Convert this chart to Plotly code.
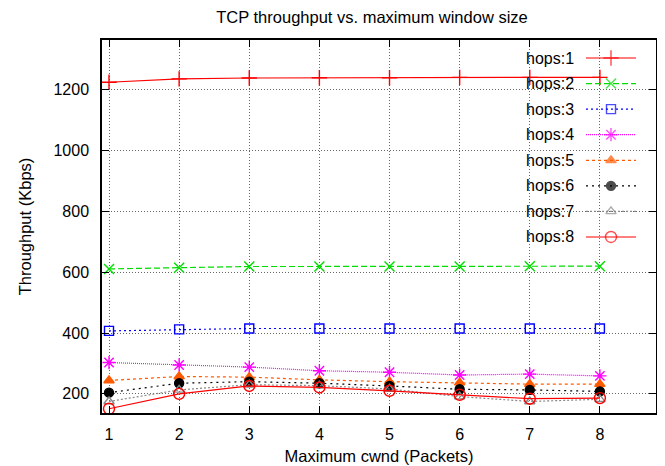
import plotly.graph_objects as go

# ---- data ----
cwnd = [1, 2, 3, 4, 5, 6, 7, 8]
hops1 = [1225, 1236, 1239, 1240, 1240, 1241, 1241, 1241]
hops2 = [611, 615, 619, 619, 619, 619, 620, 620]
hops3 = [407, 412, 415, 415, 415, 415, 415, 415]
hops4 = [303, 295, 288, 276, 271, 262, 265, 259]
hops5 = [244, 257, 255, 246, 240, 237, 232, 232]
hops6 = [204, 235, 240, 235, 226, 215, 213, 208]
hops7 = [175, 213, 230, 227, 216, 191, 175, 182]
hops8 = [151, 200, 226, 221, 210, 197, 184, 186]
names = ["hops:1", "hops:2", "hops:3", "hops:4", "hops:5", "hops:6", "hops:7", "hops:8"]
x_ticks = [1, 2, 3, 4, 5, 6, 7, 8]
y_ticks = [200, 400, 600, 800, 1000, 1200]

series = [hops1, hops2, hops3, hops4, hops5, hops6, hops7, hops8]
styles = [
    dict(color="#ff0000", dash="solid", symbol="cross-thin", size=11),
    dict(color="#00dd00", dash="6px,3px", symbol="x-thin", size=10),
    dict(color="#0000ff", dash="2px,3px", symbol="square-open", size=9),
    dict(color="#ff00ff", dash="1px,1px", symbol="asterisk-open", size=11),
    dict(color="#ff5a00", dash="3px,3px", symbol="triangle-up", size=9),
    dict(color="#000000", dash="2px,4px", symbol="circle", size=9),
    dict(color="#888888", dash="2px,2px", symbol="triangle-up-open", size=9),
    dict(color="#ff0000", dash="solid", symbol="circle-open", size=11),
]

FONT = "Liberation Sans, Arial, Helvetica, sans-serif"
OFF = 8  # default page body margin
W, H = 665 - OFF, 466 - OFF
ML, MR, MT, MB = 102 - OFF, 9, 40 - OFF, 53
PW, PH = W - ML - MR, H - MT - MB

fig = go.Figure()

for name, ys, st in zip(names, series, styles):
    fig.add_trace(go.Scatter(
        x=cwnd, y=ys, name=name, mode="lines+markers",
        line=dict(color=st["color"], dash=st["dash"], width=1.2),
        marker=dict(symbol=st["symbol"], size=st["size"], color=st["color"],
                    line=dict(color=st["color"], width=1.4)),
        showlegend=False,
    ))

# manual gnuplot-style legend (text left, sample right) on an overlay axis
def px_to_u(px):  # window pixel -> plot fraction
    return (px - OFF - ML) / PW

def py_to_v(py):
    return (MT + PH - (py - OFF)) / PH

row0, row_step = 58, 25.57
u0, um, u1 = px_to_u(586), px_to_u(611), px_to_u(636)
for i, (name, st) in enumerate(zip(names, styles)):
    v = py_to_v(row0 + i * row_step)
    fig.add_trace(go.Scatter(
        x=[u0, um, u1], y=[v, v, v], mode="lines+markers",
        xaxis="x2", yaxis="y2", showlegend=False, hoverinfo="skip",
        line=dict(color=st["color"], dash=st["dash"], width=1.2),
        marker=dict(symbol=st["symbol"], size=[0, st["size"], 0], color=st["color"],
                    line=dict(color=st["color"], width=1.4)),
    ))
    fig.add_annotation(x=px_to_u(576), y=v, xref="paper", yref="paper",
                       text=name, showarrow=False, xanchor="right", yanchor="middle",
                       font=dict(family=FONT, size=16, color="#000"))

# opaque key area: hides gridlines but stays under data
fig.add_shape(type="rect", xref="paper", yref="paper",
              x0=px_to_u(515), x1=px_to_u(647), y0=py_to_v(250), y1=1,
              fillcolor="white", line=dict(width=0), layer="between")

grid = dict(showgrid=True, gridcolor="#666666", griddash="1px,2px", gridwidth=1)
fig.update_layout(
    width=W, height=H,
    margin=dict(l=ML, r=MR, t=MT, b=MB, pad=0, autoexpand=False),
    paper_bgcolor="white", plot_bgcolor="white",
    font=dict(family=FONT, size=16, color="#000"),
    title=dict(text="TCP throughput vs. maximum window size", x=(372 - OFF) / W,
               xanchor="center", xref="container", y=1 - (17 - OFF) / H,
               yanchor="middle", yref="container",
               font=dict(family=FONT, size=16.5, color="#000")),
    xaxis=dict(range=[0.9, 8.8], tickvals=x_ticks, ticks="inside", ticklen=7,
               tickcolor="#000", mirror="ticks", showline=True, linecolor="#000",
               linewidth=1.5, zeroline=False, ticklabelstandoff=6, automargin=False,
               title=dict(text="Maximum cwnd (Packets)", standoff=8,
                          font=dict(size=16.5)), **grid),
    yaxis=dict(range=[137, 1364], tickvals=y_ticks, ticks="inside", ticklen=7,
               tickcolor="#000", mirror="ticks", showline=True, linecolor="#000",
               linewidth=1.5, zeroline=False, ticklabelstandoff=8, automargin=False,
               title=dict(text="Throughput (Kbps)", standoff=18,
                          font=dict(size=16.5)), **grid),
    xaxis2=dict(overlaying="x", range=[0, 1], visible=False, fixedrange=True),
    yaxis2=dict(overlaying="y", range=[0, 1], visible=False, fixedrange=True),
)

fig.write_html("out.html")
